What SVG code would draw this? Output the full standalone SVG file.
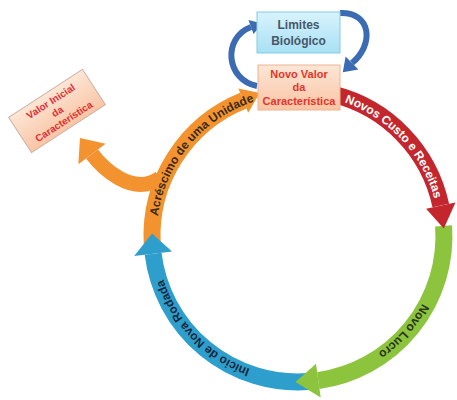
<svg xmlns="http://www.w3.org/2000/svg" width="457" height="400" viewBox="0 0 457 400">
<style>
.band{fill:none;stroke-width:17;stroke-linecap:butt}
.arc-t{font-family:"Liberation Sans",Arial,sans-serif;font-weight:bold;font-size:12px}
.box-t{font-family:"Liberation Sans",Arial,sans-serif;font-weight:bold;text-anchor:middle}
.loop{fill:none;stroke:#3a6bb3;stroke-width:6}
</style>
<defs>
<linearGradient id="gBlueBox" x1="0" y1="0" x2="0" y2="1"><stop offset="0" stop-color="#d8f3fc"/><stop offset="1" stop-color="#a8e0f4"/></linearGradient>
<linearGradient id="gPeach" x1="0" y1="0" x2="0" y2="1"><stop offset="0" stop-color="#fde6d6"/><stop offset="1" stop-color="#f9c4a3"/></linearGradient>
<path id="tRed" d="M332.2,98.7 A141.5,141.5 0 0 1 437.3,211.4"/>
<path id="tGreen" d="M437.4,260.6 A141.5,141.5 0 0 1 337.0,372.0"/>
<path id="tBlue" d="M259.0,372.0 A141.5,141.5 0 0 1 160.7,270.2"/>
<path id="tOrange" d="M157.9,216.3 A141.5,141.5 0 0 1 254.3,101.4"/>
</defs>
<rect width="457" height="400" fill="#ffffff"/>
<g id="connectors">
  <g id="loop-up">
    <path class="loop" d="M257,86 C226,80 222,38 251,27"/>
    <polygon points="253.5,34 248.5,20 262.4,23.4" fill="#3a6bb3"/>
  </g>
  <g id="loop-down">
    <path class="loop" d="M340,13 C372,12 374,45 352,63"/>
    <polygon points="358.4,69.4 345.6,56.6 342.8,72.2" fill="#3a6bb3"/>
  </g>
  <g id="arc-orange">
    <path class="band" stroke="#f29330" d="M152.2,243.6 A146,146 0 0 1 243.3,100.6"/>
    <polygon points="238.4,88.6 248.2,112.7 259.7,93.0" fill="#f29330"/>
    <path fill="none" stroke="#f29330" stroke-width="15" d="M160,178 C132,198 101,166 92,154"/>
    <polygon points="105.6,143.8 78.4,164.2 80,138" fill="#f29330"/>
    <text class="arc-t" fill="#3b2a14"><textPath href="#tOrange" startOffset="50%" text-anchor="middle">Acréscimo de uma Unidade</textPath></text>
  </g>
  <g id="arc-blue">
    <path class="band" stroke="#2e9fcd" d="M308.2,381.6 A146,146 0 0 1 153.1,253.8"/>
    <polygon points="134.2,256.1 172.0,251.5 152.0,233.5" fill="#2e9fcd"/>
    <text class="arc-t" fill="#14283c"><textPath href="#tBlue" startOffset="50%" text-anchor="middle">Início de Nova Rodada</textPath></text>
  </g>
  <g id="arc-green">
    <path class="band" stroke="#8cc43e" d="M443.6,225.8 A146,146 0 0 1 318.3,380.6"/>
    <polygon points="320.7,397.4 316.0,363.7 295.5,382.0" fill="#8cc43e"/>
    <text class="arc-t" fill="#2a3518"><textPath href="#tGreen" startOffset="50%" text-anchor="middle">Novo Lucro</textPath></text>
  </g>
  <g id="arc-red">
    <path class="band" stroke="#c4262d" d="M333.3,94.3 A146,146 0 0 1 440.8,205.6"/>
    <polygon points="455.5,202.5 426.1,208.8 443.8,228.4" fill="#c4262d"/>
    <text class="arc-t" fill="#ffffff"><textPath href="#tRed" startOffset="50%" text-anchor="middle">Novos Custo e Receitas</textPath></text>
  </g>
</g>
<g id="limites">
  <rect x="257" y="12" width="83" height="41" fill="url(#gBlueBox)" stroke="#86cbe6" stroke-width="1"/>
  <text class="box-t" font-size="12" fill="#46576a"><tspan x="298.5" y="29">Limites</tspan><tspan x="298.5" y="45">Biológico</tspan></text>
</g>
<g id="novo-valor">
  <rect x="258" y="65" width="82" height="45" fill="url(#gPeach)" stroke="#eeb592" stroke-width="1"/>
  <text class="box-t" font-size="11" fill="#e5352a"><tspan x="299" y="78">Novo Valor</tspan><tspan x="299" y="91">da</tspan><tspan x="299" y="105">Característica</tspan></text>
</g>
<g id="valor-inicial" transform="translate(57,111) rotate(-33)">
  <rect x="-44" y="-21" width="88" height="42" fill="url(#gPeach)" stroke="#c9b0a4" stroke-width="1"/>
  <text class="box-t" font-size="10" fill="#de3036"><tspan x="0" y="-8">Valor Inicial</tspan><tspan x="0" y="4">da</tspan><tspan x="0" y="16">Característica</tspan></text>
</g>
</svg>
